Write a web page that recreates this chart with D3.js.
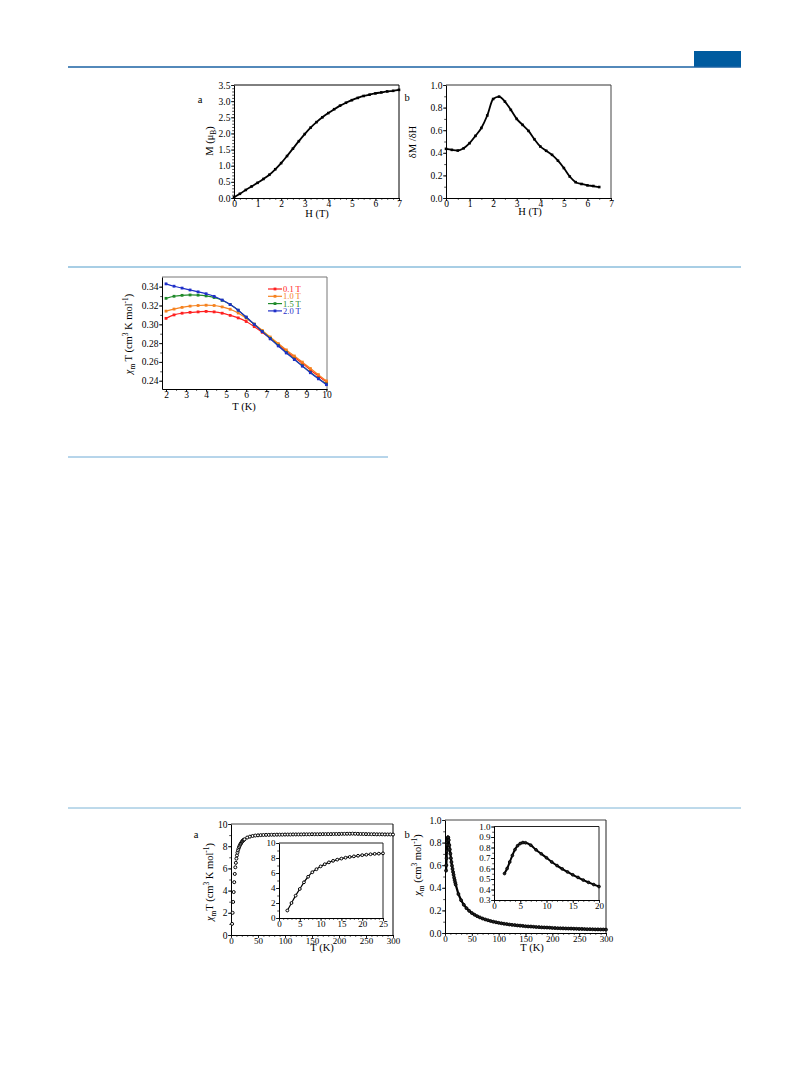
<!DOCTYPE html>
<html><head><meta charset="utf-8">
<script src="https://cdn.jsdelivr.net/npm/d3@7"></script>
<style>body{margin:0;background:#fff}svg{display:block}</style>
</head><body>
<script>
// ---------- DATA ----------
// Fig 1a: M vs H
const H1 = [0,0.25,0.5,0.75,1,1.25,1.5,1.75,2,2.25,2.5,2.75,3,3.25,3.5,3.75,4,4.25,4.5,4.75,5,5.25,5.5,5.75,6,6.25,6.5,6.75,7];
const M1 = [0.02,0.13,0.25,0.36,0.47,0.59,0.72,0.89,1.08,1.30,1.53,1.76,1.98,2.18,2.35,2.50,2.63,2.75,2.86,2.95,3.03,3.10,3.16,3.20,3.24,3.27,3.30,3.32,3.35];
// Fig 1b: dM/dH vs H
const H2 = [0,0.25,0.5,0.75,1,1.25,1.5,1.75,2,2.25,2.5,2.75,3,3.25,3.5,3.75,4,4.25,4.5,4.75,5,5.25,5.5,5.75,6,6.25,6.5];
const dMdH = [0.435,0.426,0.42,0.44,0.485,0.55,0.62,0.73,0.876,0.897,0.853,0.78,0.70,0.647,0.594,0.52,0.456,0.418,0.382,0.33,0.265,0.19,0.14,0.124,0.112,0.106,0.097];
// Fig 2: chiT vs T at several fields
const T3 = [2.0,2.4,2.8,3.2,3.6,4.0,4.4,4.8,5.2,5.6,6.0,6.4,6.8,7.2,7.6,8.0,8.4,8.8,9.2,9.6,10.0];
const chiT_01 = [0.3063,0.3100,0.3118,0.3127,0.3132,0.3137,0.3132,0.3118,0.3095,0.3068,0.3030,0.2975,0.2915,0.2850,0.2785,0.2715,0.2650,0.2585,0.2515,0.2450,0.2385];
const chiT_10 = [0.3140,0.3162,0.3180,0.3193,0.3200,0.3203,0.3200,0.3185,0.3160,0.3120,0.3065,0.3003,0.2935,0.2865,0.2795,0.2728,0.2663,0.2598,0.2530,0.2465,0.2398];
const chiT_15 = [0.3276,0.3298,0.3308,0.3312,0.3310,0.3302,0.3285,0.3255,0.3210,0.3150,0.3075,0.3000,0.2925,0.2850,0.2775,0.2700,0.2630,0.2560,0.2490,0.2425,0.2365];
const chiT_20 = [0.3430,0.3405,0.3385,0.3365,0.3345,0.3325,0.3297,0.3258,0.3210,0.3150,0.3077,0.3000,0.2922,0.2845,0.2770,0.2695,0.2625,0.2555,0.2485,0.2420,0.2358];
const fieldLabels = ["0.1 T","1.0 T","1.5 T","2.0 T"];
const fieldColors = ["#ff2020","#f5821f","#1f8a2a","#1f2fc8"];
// Fig 3a: chiT vs T
const T4low = [2,3,4,5,6,7,8,9,10,11,12,13,14,15,16,17,18,19,20,21,22,23,24,25];
const chiT4low = [1.0,2.0,2.98,3.87,4.76,5.5,6.1,6.5,6.88,7.17,7.42,7.62,7.78,7.92,8.04,8.14,8.22,8.3,8.38,8.44,8.5,8.55,8.58,8.62];
const T4high = [30,35,40,45,50,55,60,65,70,75,80,85,90,95,100,105,110,115,120,125,130,135,140,145,150,155,160,165,170,175,180,185,190,195,200,205,210,215,220,225,230,235,240,245,250,255,260,265,270,275,280,285,290,295,300];
const chiT4high = [8.78,8.86,8.92,8.96,8.98,9.0,9.01,9.02,9.02,9.03,9.03,9.04,9.04,9.04,9.05,9.05,9.05,9.06,9.06,9.06,9.06,9.07,9.07,9.07,9.08,9.08,9.08,9.08,9.09,9.09,9.09,9.09,9.1,9.1,9.1,9.11,9.11,9.12,9.12,9.13,9.12,9.11,9.1,9.1,9.09,9.09,9.08,9.08,9.07,9.07,9.07,9.06,9.06,9.06,9.05];
// Fig 3b: chi vs T
const T5low = [2,2.5,3,3.5,4,4.5,5,5.5,6,7,8,9,10,11,12,13,14,15,16,17,18,19,20];
const chi5low = [0.552,0.60,0.662,0.725,0.78,0.817,0.838,0.847,0.845,0.822,0.778,0.74,0.702,0.662,0.628,0.596,0.567,0.54,0.515,0.49,0.468,0.447,0.428];
const T5high = [25,30,35,40,45,50,55,60,65,70,75,80,85,90,95,100,105,110,115,120,125,130,135,140,145,150,155,160,165,170,175,180,185,190,195,200,205,210,215,220,225,230,235,240,245,250,255,260,265,270,275,280,285,290,295,300];
const chi5high = [0.345,0.29,0.25,0.22,0.196,0.177,0.162,0.149,0.138,0.128,0.12,0.113,0.106,0.1,0.095,0.09,0.086,0.082,0.079,0.075,0.072,0.07,0.067,0.065,0.063,0.06,0.058,0.057,0.055,0.053,0.052,0.05,0.049,0.048,0.047,0.045,0.044,0.043,0.042,0.041,0.04,0.039,0.039,0.038,0.037,0.036,0.036,0.035,0.034,0.034,0.033,0.032,0.032,0.031,0.031,0.03];

// tick labels
const ticks1x = [0,1,2,3,4,5,6,7], ticks1y = [0,0.5,1,1.5,2,2.5,3,3.5];
const ticks2x = [0,1,2,3,4,5,6,7], ticks2y = [0,0.2,0.4,0.6,0.8,1.0];
const ticks3x = [2,3,4,5,6,7,8,9,10], ticks3y = [0.24,0.26,0.28,0.30,0.32,0.34];
const ticks4x = [0,50,100,150,200,250,300], ticks4y = [0,2,4,6,8,10];
const ticks4ix = [0,5,10,15,20,25], ticks4iy = [0,2,4,6,8,10];
const ticks5x = [0,50,100,150,200,250,300], ticks5y = [0,0.2,0.4,0.6,0.8,1.0];
const ticks5ix = [0,5,10,15,20], ticks5iy = [0.3,0.4,0.5,0.6,0.7,0.8,0.9,1.0];

// ---------- DRAW ----------
const FONT = "'Liberation Serif','Times New Roman',serif";
const svg = d3.select("body").append("svg").attr("width",809).attr("height",1067);

// page decorations
svg.append("rect").attr("x",694).attr("y",51).attr("width",47).attr("height",16).attr("fill","#005b9f");
svg.append("line").attr("x1",68).attr("x2",741).attr("y1",67).attr("y2",67).attr("stroke","#1a62a3").attr("stroke-width",1.5);
svg.append("line").attr("x1",68).attr("x2",741).attr("y1",267).attr("y2",267).attr("stroke","#8bbedd").attr("stroke-width",1.6);
svg.append("line").attr("x1",68).attr("x2",388).attr("y1",457).attr("y2",457).attr("stroke","#6eabd6").attr("stroke-width",1);
svg.append("line").attr("x1",68).attr("x2",741).attr("y1",808).attr("y2",808).attr("stroke","#7db4d6").attr("stroke-width",1);

function styleAxis(g, fs){
  g.select(".domain").attr("stroke","#000").attr("stroke-width",1);
  g.selectAll(".tick line").attr("stroke","#000").attr("stroke-width",0.8);
  g.selectAll(".tick text").attr("font-family",FONT).attr("font-size",fs).attr("fill","#000");
}

function panel(c){
  const g = svg.append("g");
  const x = d3.scaleLinear().domain(c.xd).range([c.x0,c.x1]);
  const y = d3.scaleLinear().domain(c.yd).range([c.y1,c.y0]);
  const fs = c.fs || 9.5;
  if (c.fill) g.append("rect").attr("x",c.x0).attr("y",c.y0).attr("width",c.x1-c.x0).attr("height",c.y1-c.y0).attr("fill","#fff");
  g.append("line").attr("x1",c.x0).attr("x2",c.x1).attr("y1",c.y0).attr("y2",c.y0).attr("stroke",c.topColor||"#222").attr("stroke-width",1);
  g.append("line").attr("x1",c.x1).attr("x2",c.x1).attr("y1",c.y0).attr("y2",c.y1).attr("stroke",c.rightColor||"#222").attr("stroke-width",1);
  // minor ticks
  const gxm = g.append("g").attr("transform",`translate(0,${c.y1})`)
    .call(d3.axisBottom(x).tickValues(c.xMinor).tickSize(1.8).tickSizeOuter(0).tickFormat(""));
  gxm.select(".domain").remove(); gxm.selectAll("line").attr("stroke","#000").attr("stroke-width",0.7);
  const gym = g.append("g").attr("transform",`translate(${c.x0},0)`)
    .call(d3.axisLeft(y).tickValues(c.yMinor).tickSize(1.8).tickSizeOuter(0).tickFormat(""));
  gym.select(".domain").remove(); gym.selectAll("line").attr("stroke","#000").attr("stroke-width",0.7);
  // major
  const gx = g.append("g").attr("transform",`translate(0,${c.y1})`)
    .call(d3.axisBottom(x).tickValues(c.xt).tickSize(3).tickSizeOuter(0).tickPadding(-0.8).tickFormat(c.xf));
  styleAxis(gx, c.fsx || fs);
  const gy = g.append("g").attr("transform",`translate(${c.x0},0)`)
    .call(d3.axisLeft(y).tickValues(c.yt).tickSize(3).tickSizeOuter(0).tickPadding(0.6).tickFormat(c.yf));
  styleAxis(gy, fs);
  return {g,x,y};
}

function label(txt, x, y, size, anchor){
  return svg.append("text").attr("x",x).attr("y",y).attr("font-family",FONT).attr("font-size",size||10)
    .attr("text-anchor",anchor||"middle").attr("fill","#000").text(txt);
}
// rotated rich label: parts = [[text, shift, italic], ...] shift: 0 normal, 1 sub, -1 sup
function ylabel(parts, cx, cy, size){
  const t = svg.append("text").attr("transform",`translate(${cx},${cy}) rotate(-90)`)
    .attr("font-family",FONT).attr("font-size",size).attr("text-anchor","middle").attr("fill","#000");
  let cur = 0;
  parts.forEach(([s,sh,it])=>{
    const target = sh===1 ? size*0.25 : (sh===-1 ? -size*0.38 : 0);
    const ts = t.append("tspan").attr("dy", target-cur).text(s);
    if (sh!==0) ts.attr("font-size", size*0.7);
    if (it) ts.attr("font-style","italic");
    cur = target;
  });
  return t;
}

const f1 = d3.format(".1f"), f2 = d3.format(".2f"), f0 = d3.format("d");

// ---- Fig 1a ----
{
  const p = panel({x0:234,x1:399,y0:85,y1:198,xd:[0,7],yd:[0,3.5],xt:ticks1x,yt:ticks1y,
    xMinor:d3.range(0,7.01,0.25),yMinor:d3.range(0,3.51,0.1),xf:f0,yf:f1,topColor:"#000",rightColor:"#000"});
  const pts = H1.map((h,i)=>[h,M1[i]]);
  p.g.append("path").datum(pts).attr("fill","none").attr("stroke","#000").attr("stroke-width",1.8)
    .attr("d",d3.line().x(d=>p.x(d[0])).y(d=>p.y(d[1])).curve(d3.curveMonotoneX));
  p.g.selectAll("rect.m").data(pts).join("rect").attr("x",d=>p.x(d[0])-1.3).attr("y",d=>p.y(d[1])-1.3)
    .attr("width",2.6).attr("height",2.6).attr("fill","#000");
  label("a",200,103,10.5);
  label("H (T)",317,217,10.5);
  ylabel([["M (μ",0],["B",1],[")",0]],213,141,10.5);
}
// ---- Fig 1b ----
{
  const p = panel({x0:446,x1:611,y0:85,y1:198,xd:[0,7],yd:[0,1],xt:ticks2x,yt:ticks2y,
    xMinor:d3.range(0,7.01,0.5),yMinor:d3.range(0,1.01,0.1),xf:f0,yf:f1,topColor:"#333",rightColor:"#444"});
  const pts = H2.map((h,i)=>[h,dMdH[i]]);
  p.g.append("path").datum(pts).attr("fill","none").attr("stroke","#000").attr("stroke-width",1.8)
    .attr("d",d3.line().x(d=>p.x(d[0])).y(d=>p.y(d[1])).curve(d3.curveMonotoneX));
  p.g.selectAll("rect.m").data(pts).join("rect").attr("x",d=>p.x(d[0])-1.3).attr("y",d=>p.y(d[1])-1.3)
    .attr("width",2.6).attr("height",2.6).attr("fill","#000");
  label("b",407,101,10.5);
  label("H (T)",530,215,10.5);
  ylabel([["δM /δH",0]],416,142,10.5);
}
// ---- Fig 2 ----
{
  const p = panel({x0:162,x1:327,y0:277,y1:389,xd:[1.8,10.03],yd:[0.2312,0.3503],xt:ticks3x,yt:ticks3y,
    xMinor:d3.range(2,10.01,0.5),yMinor:d3.range(0.24,0.345,0.01),xf:f0,yf:f2,topColor:"#777",rightColor:"#777"});
  const series = [chiT_01,chiT_10,chiT_15,chiT_20];
  const line = d3.line().x(d=>p.x(d[0])).y(d=>p.y(d[1])).curve(d3.curveMonotoneX);
  series.forEach((s,k)=>{
    const pts = T3.map((t,i)=>[t,s[i]]);
    p.g.append("path").datum(pts).attr("fill","none").attr("stroke",fieldColors[k]).attr("stroke-width",1.2).attr("d",line);
    p.g.selectAll(null).data(pts).join("rect").attr("x",d=>p.x(d[0])-1.4).attr("y",d=>p.y(d[1])-1.4)
      .attr("width",2.8).attr("height",2.8).attr("fill",fieldColors[k]);
  });
  fieldLabels.forEach((lab,k)=>{
    const yy = 289 + k*7.3;
    svg.append("line").attr("x1",268).attr("x2",282).attr("y1",yy).attr("y2",yy).attr("stroke",fieldColors[k]).attr("stroke-width",1.2);
    svg.append("rect").attr("x",273.6).attr("y",yy-1.4).attr("width",2.8).attr("height",2.8).attr("fill",fieldColors[k]);
    svg.append("text").attr("x",283).attr("y",yy+3).attr("font-family",FONT).attr("font-size",8.5).attr("fill",fieldColors[k]).text(lab);
  });
  label("T (K)",244,410,10.5);
  ylabel([["χ",0,true],["m",1],[" T (cm",0],["3",-1],[" K mol",0],["-1",-1],[")",0]],132,334,10.5);
}
// ---- Fig 3a ----
{
  const p = panel({x0:231,x1:393,y0:824,y1:935,xd:[0,300],yd:[0,10],xt:ticks4x,yt:ticks4y,fsx:9,
    xMinor:d3.range(0,301,10),yMinor:d3.range(0,10.01,1),xf:f0,yf:f0,topColor:"#444",rightColor:"#000"});
  const pts = T4low.map((t,i)=>[t,chiT4low[i]]).concat(T4high.map((t,i)=>[t,chiT4high[i]]));
  p.g.selectAll(null).data(pts).join("circle").attr("cx",d=>p.x(d[0])).attr("cy",d=>p.y(d[1])).attr("r",1.5)
    .attr("fill","#fff").attr("stroke","#000").attr("stroke-width",1);
  const q = panel({x0:279,x1:383,y0:843,y1:918,xd:[0,25],yd:[0,10],xt:ticks4ix,yt:ticks4iy,fill:true,fs:9,
    xMinor:d3.range(0,25.01,1),yMinor:d3.range(0,10.01,1),xf:f0,yf:f0,topColor:"#222",rightColor:"#222"});
  const lp = T4low.map((t,i)=>[t,chiT4low[i]]);
  q.g.append("path").datum(lp).attr("fill","none").attr("stroke","#000").attr("stroke-width",1.2)
    .attr("d",d3.line().x(d=>q.x(d[0])).y(d=>q.y(d[1])).curve(d3.curveMonotoneX));
  q.g.selectAll(null).data(lp).join("circle").attr("cx",d=>q.x(d[0])).attr("cy",d=>q.y(d[1])).attr("r",1.4)
    .attr("fill","#fff").attr("stroke","#000").attr("stroke-width",1);
  label("a",196,838,10.5);
  label("T (K)",322,951,10.5);
  ylabel([["χ",0,true],["m",1],["T (cm",0],["3",-1],[" K mol",0],["-1",-1],[")",0]],213,882,10.5);
}
// ---- Fig 3b ----
{
  const p = panel({x0:445,x1:606,y0:820,y1:933,xd:[0,300],yd:[0,1],xt:ticks5x,yt:ticks5y,fsx:9,
    xMinor:d3.range(0,301,10),yMinor:d3.range(0,1.01,0.1),xf:f0,yf:f1,topColor:"#444",rightColor:"#222"});
  const pts = T5low.map((t,i)=>[t,chi5low[i]]).concat(T5high.map((t,i)=>[t,chi5high[i]]));
  p.g.append("path").datum(pts).attr("fill","none").attr("stroke","#000").attr("stroke-width",2.2)
    .attr("d",d3.line().x(d=>p.x(d[0])).y(d=>p.y(d[1])));
  p.g.selectAll(null).data(pts).join("circle").attr("cx",d=>p.x(d[0])).attr("cy",d=>p.y(d[1])).attr("r",1.5)
    .attr("fill","#222").attr("stroke","#000").attr("stroke-width",0.8);
  const q = panel({x0:494,x1:599,y0:826.5,y1:900,xd:[0,20],yd:[0.3,1.0],xt:ticks5ix,yt:ticks5iy,fill:true,fs:9,
    xMinor:d3.range(0,20.01,1),yMinor:d3.range(0.3,1.001,0.05),xf:f0,yf:f1,topColor:"#222",rightColor:"#222"});
  const lp = T5low.map((t,i)=>[t,chi5low[i]]);
  q.g.append("path").datum(lp).attr("fill","none").attr("stroke","#000").attr("stroke-width",2)
    .attr("d",d3.line().x(d=>q.x(d[0])).y(d=>q.y(d[1])).curve(d3.curveMonotoneX));
  q.g.selectAll(null).data(lp).join("circle").attr("cx",d=>q.x(d[0])).attr("cy",d=>q.y(d[1])).attr("r",1.4)
    .attr("fill","#222").attr("stroke","#000").attr("stroke-width",0.8);
  label("b",407,838,10.5);
  label("T (K)",532,951,10.5);
  ylabel([["χ",0,true],["m",1],[" (cm",0],["3",-1],[" mol",0],["-1",-1],[")",0]],421,865,10.5);
}
</script>
</body></html>
